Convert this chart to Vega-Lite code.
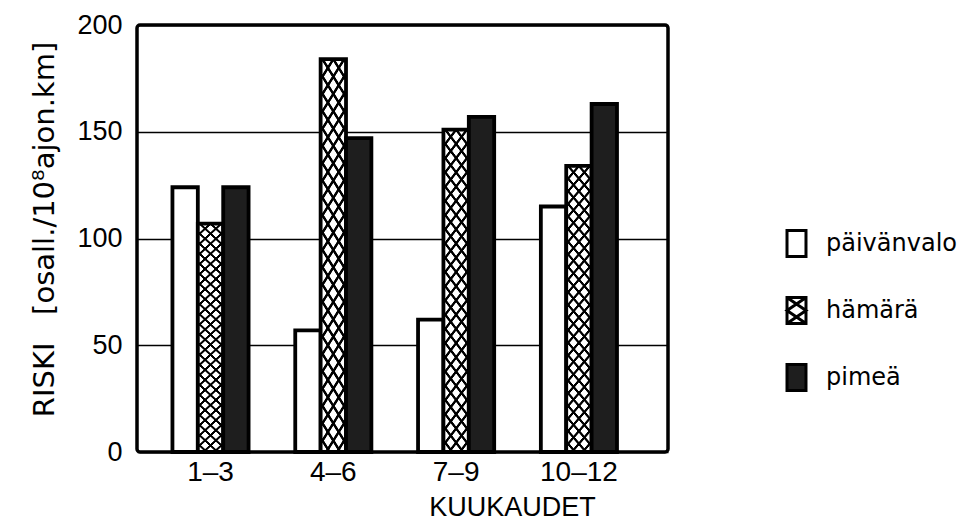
{
  "$schema": "https://vega.github.io/schema/vega-lite/v6.json",
  "autosize": {"type": "none"},
  "padding": {"left": 137, "top": 25, "right": 292, "bottom": 69},
  "width": 531,
  "height": 427,
  "background": "#ffffff",
  "config": {
    "view": {"stroke": "#000000", "strokeWidth": 3.5, "cornerRadius": 3},
    "axis": {"domain": false, "ticks": false, "tickSize": 0, "labelColor": "#000000", "titleColor": "#000000", "titleFontWeight": "normal"}
  },
  "data": {
    "values": [
      {"kk": "1–3", "valo": "päivänvalo", "riski": 124},
      {"kk": "1–3", "valo": "hämärä", "riski": 107},
      {"kk": "1–3", "valo": "pimeä", "riski": 124},
      {"kk": "4–6", "valo": "päivänvalo", "riski": 57},
      {"kk": "4–6", "valo": "hämärä", "riski": 184},
      {"kk": "4–6", "valo": "pimeä", "riski": 147},
      {"kk": "7–9", "valo": "päivänvalo", "riski": 62},
      {"kk": "7–9", "valo": "hämärä", "riski": 151},
      {"kk": "7–9", "valo": "pimeä", "riski": 157},
      {"kk": "10–12", "valo": "päivänvalo", "riski": 115},
      {"kk": "10–12", "valo": "hämärä", "riski": 134},
      {"kk": "10–12", "valo": "pimeä", "riski": 163}
    ]
  },
  "encoding": {
    "x": {
      "field": "kk", "type": "nominal", "sort": ["1–3", "4–6", "7–9", "10–12"],
      "scale": {"paddingInner": 0.38, "paddingOuter": 0.352, "align": 0.41},
      "axis": {"title": "KUUKAUDET", "labelAngle": 0, "labelFont": "Liberation Sans", "labelFontSize": 28, "labelPadding": 6, "grid": false,
        "titleFont": "Liberation Sans", "titleFontSize": 27, "titleX": 375, "titleY": 63, "titleBaseline": "alphabetic", "titleAlign": "center"}
    },
    "xOffset": {"field": "valo", "type": "nominal", "scale": {"domain": ["päivänvalo", "hämärä", "pimeä"], "paddingInner": 0, "paddingOuter": 0}},
    "y": {
      "field": "riski", "type": "quantitative",
      "scale": {"domain": [0, 200], "nice": false},
      "axis": {"values": [0, 50, 100, 150, 200], "grid": true, "gridColor": "#000000", "gridWidth": 1.5, "gridOpacity": 1,
        "labelFont": "Liberation Sans", "labelFontSize": 27, "labelPadding": 15,
        "title": "RISKI\u00a0\u00a0 [osall./10⁸ajon.km]", "titleFont": "DejaVu Sans", "titleFontSize": 29, "titleAngle": -90,
        "titleX": -84, "titleY": 204, "titleBaseline": "alphabetic", "titleAlign": "center"}
    }
  },
  "layer": [
    {
      "mark": {"type": "bar", "stroke": "#000000", "strokeWidth": 3.8},
      "encoding": {
        "fill": {
          "field": "valo", "type": "nominal",
          "scale": {"domain": ["päivänvalo", "hämärä", "pimeä"], "range": ["#ffffff", "#ffffff", "#1e1e1e"]},
          "legend": {
            "orient": "none", "legendX": 645, "legendY": 204, "title": null, "padding": 0,
            "symbolType": "M-0.73,-1H0.73V1H-0.73Z", "symbolSize": 676,
            "symbolStrokeColor": "#000000", "symbolStrokeWidth": 3,
            "labelFont": "DejaVu Sans", "labelFontSize": 24, "labelColor": "#000000", "labelOffset": 15,
            "rowPadding": 28, "labelBaseline": "middle",
            "encode": {"symbols": {"update": {"shape": [
              {"test": "datum.value === 'hämärä'", "value": "M-0.73,-1H0.73V1H-0.73Z M-0.73,-1L0.73,0L-0.73,1 M0.73,-1L-0.73,0L0.73,1"},
              {"value": "M-0.73,-1H0.73V1H-0.73Z"}
            ]}}}
          }
        }
      }
    },
    {
      "transform": [{"filter": "datum.valo === 'hämärä'"}],
      "mark": {"type": "bar", "strokeWidth": 0, "fill": {"gradient": "linear", "x1": 0, "y1": 0, "x2": 0.1129, "y2": 1.0917, "stops": [
        {"offset": 0, "color": "transparent"}, {"offset": 0.003, "color": "#000"}, {"offset": 0.011, "color": "#000"}, {"offset": 0.014, "color": "transparent"},
        {"offset": 0.04, "color": "transparent"}, {"offset": 0.043, "color": "#000"}, {"offset": 0.051, "color": "#000"}, {"offset": 0.054, "color": "transparent"},
        {"offset": 0.08, "color": "transparent"}, {"offset": 0.083, "color": "#000"}, {"offset": 0.091, "color": "#000"}, {"offset": 0.094, "color": "transparent"},
        {"offset": 0.12, "color": "transparent"}, {"offset": 0.123, "color": "#000"}, {"offset": 0.131, "color": "#000"}, {"offset": 0.134, "color": "transparent"},
        {"offset": 0.16, "color": "transparent"}, {"offset": 0.163, "color": "#000"}, {"offset": 0.171, "color": "#000"}, {"offset": 0.174, "color": "transparent"},
        {"offset": 0.2, "color": "transparent"}, {"offset": 0.203, "color": "#000"}, {"offset": 0.211, "color": "#000"}, {"offset": 0.214, "color": "transparent"},
        {"offset": 0.24, "color": "transparent"}, {"offset": 0.243, "color": "#000"}, {"offset": 0.251, "color": "#000"}, {"offset": 0.254, "color": "transparent"},
        {"offset": 0.28, "color": "transparent"}, {"offset": 0.283, "color": "#000"}, {"offset": 0.291, "color": "#000"}, {"offset": 0.294, "color": "transparent"},
        {"offset": 0.32, "color": "transparent"}, {"offset": 0.323, "color": "#000"}, {"offset": 0.331, "color": "#000"}, {"offset": 0.334, "color": "transparent"},
        {"offset": 0.36, "color": "transparent"}, {"offset": 0.363, "color": "#000"}, {"offset": 0.371, "color": "#000"}, {"offset": 0.374, "color": "transparent"},
        {"offset": 0.4, "color": "transparent"}, {"offset": 0.403, "color": "#000"}, {"offset": 0.411, "color": "#000"}, {"offset": 0.414, "color": "transparent"},
        {"offset": 0.44, "color": "transparent"}, {"offset": 0.443, "color": "#000"}, {"offset": 0.451, "color": "#000"}, {"offset": 0.454, "color": "transparent"},
        {"offset": 0.48, "color": "transparent"}, {"offset": 0.483, "color": "#000"}, {"offset": 0.491, "color": "#000"}, {"offset": 0.494, "color": "transparent"},
        {"offset": 0.52, "color": "transparent"}, {"offset": 0.523, "color": "#000"}, {"offset": 0.531, "color": "#000"}, {"offset": 0.534, "color": "transparent"},
        {"offset": 0.56, "color": "transparent"}, {"offset": 0.563, "color": "#000"}, {"offset": 0.571, "color": "#000"}, {"offset": 0.574, "color": "transparent"},
        {"offset": 0.6, "color": "transparent"}, {"offset": 0.603, "color": "#000"}, {"offset": 0.611, "color": "#000"}, {"offset": 0.614, "color": "transparent"},
        {"offset": 0.64, "color": "transparent"}, {"offset": 0.643, "color": "#000"}, {"offset": 0.651, "color": "#000"}, {"offset": 0.654, "color": "transparent"},
        {"offset": 0.68, "color": "transparent"}, {"offset": 0.683, "color": "#000"}, {"offset": 0.691, "color": "#000"}, {"offset": 0.694, "color": "transparent"},
        {"offset": 0.72, "color": "transparent"}, {"offset": 0.723, "color": "#000"}, {"offset": 0.731, "color": "#000"}, {"offset": 0.734, "color": "transparent"},
        {"offset": 0.76, "color": "transparent"}, {"offset": 0.763, "color": "#000"}, {"offset": 0.771, "color": "#000"}, {"offset": 0.774, "color": "transparent"},
        {"offset": 0.8, "color": "transparent"}, {"offset": 0.803, "color": "#000"}, {"offset": 0.811, "color": "#000"}, {"offset": 0.814, "color": "transparent"},
        {"offset": 0.84, "color": "transparent"}, {"offset": 0.843, "color": "#000"}, {"offset": 0.851, "color": "#000"}, {"offset": 0.854, "color": "transparent"},
        {"offset": 0.88, "color": "transparent"}, {"offset": 0.883, "color": "#000"}, {"offset": 0.891, "color": "#000"}, {"offset": 0.894, "color": "transparent"},
        {"offset": 0.92, "color": "transparent"}, {"offset": 0.923, "color": "#000"}, {"offset": 0.931, "color": "#000"}, {"offset": 0.934, "color": "transparent"},
        {"offset": 0.96, "color": "transparent"}, {"offset": 0.963, "color": "#000"}, {"offset": 0.971, "color": "#000"}, {"offset": 0.974, "color": "transparent"}
      ]}}
    },
    {
      "transform": [{"filter": "datum.valo === 'hämärä'"}],
      "mark": {"type": "bar", "strokeWidth": 0, "fill": {"gradient": "linear", "x1": 1, "y1": 0, "x2": 0.8871, "y2": 1.0917, "stops": [
        {"offset": 0, "color": "transparent"}, {"offset": 0.003, "color": "#000"}, {"offset": 0.011, "color": "#000"}, {"offset": 0.014, "color": "transparent"},
        {"offset": 0.04, "color": "transparent"}, {"offset": 0.043, "color": "#000"}, {"offset": 0.051, "color": "#000"}, {"offset": 0.054, "color": "transparent"},
        {"offset": 0.08, "color": "transparent"}, {"offset": 0.083, "color": "#000"}, {"offset": 0.091, "color": "#000"}, {"offset": 0.094, "color": "transparent"},
        {"offset": 0.12, "color": "transparent"}, {"offset": 0.123, "color": "#000"}, {"offset": 0.131, "color": "#000"}, {"offset": 0.134, "color": "transparent"},
        {"offset": 0.16, "color": "transparent"}, {"offset": 0.163, "color": "#000"}, {"offset": 0.171, "color": "#000"}, {"offset": 0.174, "color": "transparent"},
        {"offset": 0.2, "color": "transparent"}, {"offset": 0.203, "color": "#000"}, {"offset": 0.211, "color": "#000"}, {"offset": 0.214, "color": "transparent"},
        {"offset": 0.24, "color": "transparent"}, {"offset": 0.243, "color": "#000"}, {"offset": 0.251, "color": "#000"}, {"offset": 0.254, "color": "transparent"},
        {"offset": 0.28, "color": "transparent"}, {"offset": 0.283, "color": "#000"}, {"offset": 0.291, "color": "#000"}, {"offset": 0.294, "color": "transparent"},
        {"offset": 0.32, "color": "transparent"}, {"offset": 0.323, "color": "#000"}, {"offset": 0.331, "color": "#000"}, {"offset": 0.334, "color": "transparent"},
        {"offset": 0.36, "color": "transparent"}, {"offset": 0.363, "color": "#000"}, {"offset": 0.371, "color": "#000"}, {"offset": 0.374, "color": "transparent"},
        {"offset": 0.4, "color": "transparent"}, {"offset": 0.403, "color": "#000"}, {"offset": 0.411, "color": "#000"}, {"offset": 0.414, "color": "transparent"},
        {"offset": 0.44, "color": "transparent"}, {"offset": 0.443, "color": "#000"}, {"offset": 0.451, "color": "#000"}, {"offset": 0.454, "color": "transparent"},
        {"offset": 0.48, "color": "transparent"}, {"offset": 0.483, "color": "#000"}, {"offset": 0.491, "color": "#000"}, {"offset": 0.494, "color": "transparent"},
        {"offset": 0.52, "color": "transparent"}, {"offset": 0.523, "color": "#000"}, {"offset": 0.531, "color": "#000"}, {"offset": 0.534, "color": "transparent"},
        {"offset": 0.56, "color": "transparent"}, {"offset": 0.563, "color": "#000"}, {"offset": 0.571, "color": "#000"}, {"offset": 0.574, "color": "transparent"},
        {"offset": 0.6, "color": "transparent"}, {"offset": 0.603, "color": "#000"}, {"offset": 0.611, "color": "#000"}, {"offset": 0.614, "color": "transparent"},
        {"offset": 0.64, "color": "transparent"}, {"offset": 0.643, "color": "#000"}, {"offset": 0.651, "color": "#000"}, {"offset": 0.654, "color": "transparent"},
        {"offset": 0.68, "color": "transparent"}, {"offset": 0.683, "color": "#000"}, {"offset": 0.691, "color": "#000"}, {"offset": 0.694, "color": "transparent"},
        {"offset": 0.72, "color": "transparent"}, {"offset": 0.723, "color": "#000"}, {"offset": 0.731, "color": "#000"}, {"offset": 0.734, "color": "transparent"},
        {"offset": 0.76, "color": "transparent"}, {"offset": 0.763, "color": "#000"}, {"offset": 0.771, "color": "#000"}, {"offset": 0.774, "color": "transparent"},
        {"offset": 0.8, "color": "transparent"}, {"offset": 0.803, "color": "#000"}, {"offset": 0.811, "color": "#000"}, {"offset": 0.814, "color": "transparent"},
        {"offset": 0.84, "color": "transparent"}, {"offset": 0.843, "color": "#000"}, {"offset": 0.851, "color": "#000"}, {"offset": 0.854, "color": "transparent"},
        {"offset": 0.88, "color": "transparent"}, {"offset": 0.883, "color": "#000"}, {"offset": 0.891, "color": "#000"}, {"offset": 0.894, "color": "transparent"},
        {"offset": 0.92, "color": "transparent"}, {"offset": 0.923, "color": "#000"}, {"offset": 0.931, "color": "#000"}, {"offset": 0.934, "color": "transparent"},
        {"offset": 0.96, "color": "transparent"}, {"offset": 0.963, "color": "#000"}, {"offset": 0.971, "color": "#000"}, {"offset": 0.974, "color": "transparent"}
      ]}}
    }
  ]
}
